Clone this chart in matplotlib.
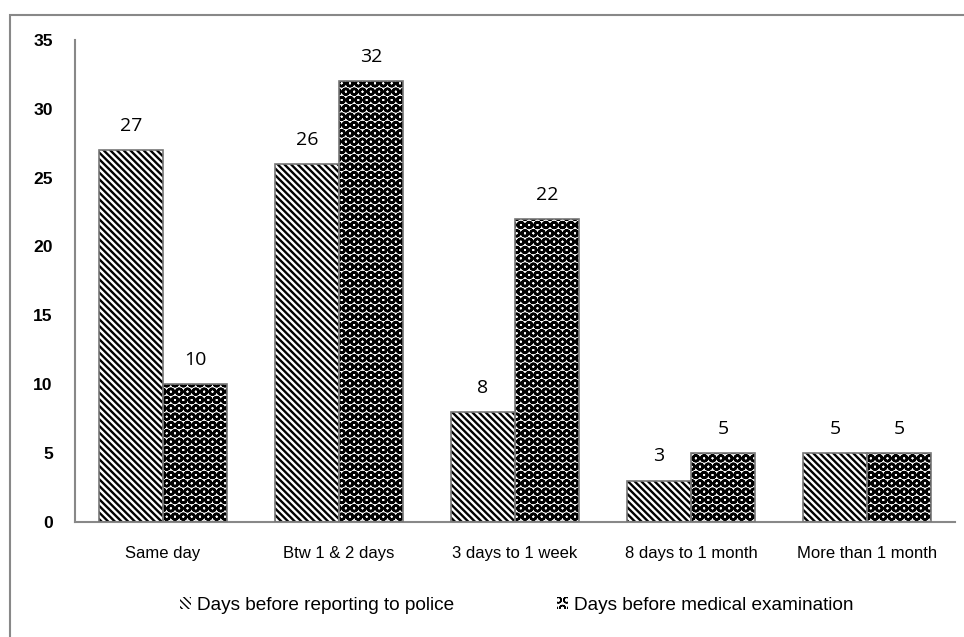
import matplotlib.pyplot as plt
import numpy as np
from matplotlib.patches import Rectangle

categories = ['Same day', 'Btw 1 & 2 days', '3 days to 1 week', '8 days to 1 month', 'More than 1 month']
police = [27, 26, 8, 3, 5]
medical = [10, 32, 22, 5, 5]
series_names = ['Days before reporting to police', 'Days before medical examination']

plt.rcParams['font.family'] = ['Liberation Sans', 'DejaVu Sans']

fig = plt.figure(figsize=(9.64, 6.37), dpi=100)
ax = fig.add_axes([0.0777, 0.1805, 0.913, 0.757])

# outer frame (only top and left edges fall inside the image)
fig.patches.append(Rectangle((0.0105, -0.1), 1.2, 1.0765, transform=fig.transFigure,
                             fill=False, edgecolor='#888888', linewidth=1.5))

x = np.arange(len(categories))
w = 0.364
with plt.rc_context({'hatch.linewidth': 1.7}):
    b1 = ax.bar(x - w/2, police, w, color='white', edgecolor='black', hatch='\\\\\\\\\\',
                linewidth=0, label=series_names[0])
with plt.rc_context({'hatch.linewidth': 1.8}):
    b2 = ax.bar(x + w/2, medical, w, color='white', edgecolor='black', hatch='OO',
                linewidth=0, label=series_names[1])
for bars in (b1, b2):
    for r in bars:
        ax.add_patch(Rectangle((r.get_x(), 0), r.get_width(), r.get_height(), fill=False,
                               edgecolor='#777777', linewidth=1.2, zorder=3))
    ax.bar_label(bars, padding=11, fontsize=14, family=['Open Sans', 'DejaVu Sans'])

ax.set_ylim(0, 35)
ax.set_xlim(-0.5, 4.5)
ax.set_yticks(range(0, 36, 5))
ax.set_xticks(x)
ax.set_xticklabels(categories, fontsize=12)
for t in ax.get_yticklabels():
    t.set_fontweight('bold')
    t.set_fontsize(12.6)
ax.tick_params(axis='both', length=0)
ax.tick_params(axis='y', pad=16)
ax.tick_params(axis='x', pad=17)
for s in ['top', 'right']:
    ax.spines[s].set_visible(False)
for s in ['left', 'bottom']:
    ax.spines[s].set_color('#888888')
    ax.spines[s].set_linewidth(1.5)

ax.legend(loc='center', bbox_to_anchor=(0.502, -0.173), ncol=2, frameon=False,
          fontsize=13.7, handlelength=0.6, handleheight=0.6, columnspacing=5.4,
          handletextpad=0.3)

fig.savefig('out.png', dpi=100)
